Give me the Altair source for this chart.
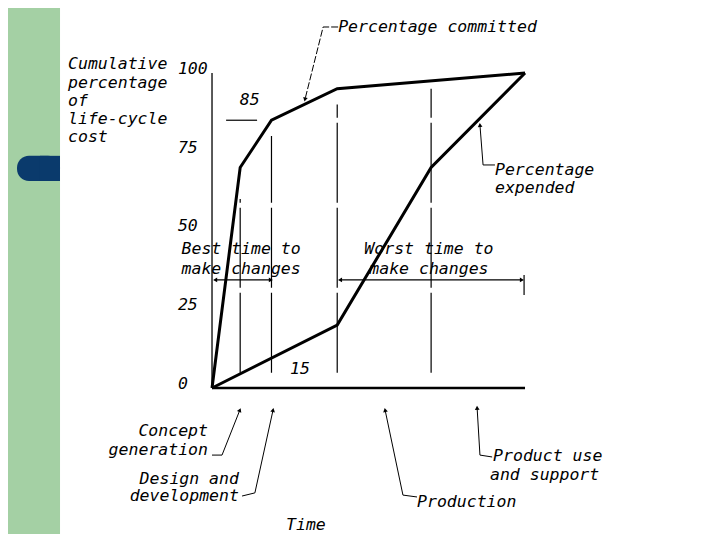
import math
import altair as alt
import pandas as pd

# ---------------- data ----------------
committed_t = [0, 9, 19, 40, 100]
committed_v = [0, 70, 85, 95, 100]
expended_t = [0, 40, 70, 100]
expended_v = [0, 20, 70, 100]
y_ticks = [0, 25, 50, 75, 100]
phase_t = [9, 19, 40, 70]          # phase boundaries (time units)
phase_top = [60, 80, 90, 95]       # top of dashed boundary lines
ylabel_lines = ["Cumulative", "percentage", "of", "life-cycle", "cost"]

# ---------------- scales ----------------
W, H = 704, 526
SX, SY = 3.13, 3.15
XD = [-65.18, -65.18 + W / SX]
YD = [120.63 - H / SY, 120.63]
xs = alt.Scale(domain=XD, nice=False, zero=False)
ys = alt.Scale(domain=YD, nice=False, zero=False)


def X(f="t"):
    return alt.X(f + ":Q", scale=xs, axis=None)


def Y(f="v"):
    return alt.Y(f + ":Q", scale=ys, axis=None)


FONT = "DejaVu Sans Mono"
FS = 16.5

layers = []

# green side band and tab
band = pd.DataFrame({"t": [XD[0]], "t2": [-48.56], "v": [YD[0]], "v2": [YD[1]]})
layers.append(alt.Chart(band).mark_rect(color="#a4d0a4").encode(
    x=X(), x2="t2", y=Y(), y2="v2"))
tab = pd.DataFrame({"t": [-62.3], "t2": [-48.56], "v": [65.7], "v2": [73.7]})
layers.append(alt.Chart(tab).mark_rect(color="#0a3a6c", cornerRadius=12).encode(
    x=X(), x2="t2", y=Y(), y2="v2"))
tab2 = pd.DataFrame({"t": [-55.0], "t2": [-48.56], "v": [65.7], "v2": [73.7]})
layers.append(alt.Chart(tab2).mark_rect(color="#0a3a6c").encode(
    x=X(), x2="t2", y=Y(), y2="v2"))

# dashed phase boundaries
pl = pd.DataFrame({"t": phase_t, "v": [4.8] * len(phase_t), "v2": phase_top})
layers.append(alt.Chart(pl).mark_rule(color="black", strokeWidth=1.2,
                                      strokeDash=[80, 5]).encode(
    x=X(), y=Y(), y2="v2"))

# axes
layers.append(alt.Chart(pd.DataFrame({"t": [0], "v": [0], "v2": [100]}))
              .mark_rule(color="black", strokeWidth=1.3).encode(x=X(), y=Y(), y2="v2"))
layers.append(alt.Chart(pd.DataFrame({"t": [0], "t2": [100], "v": [0]}))
              .mark_rule(color="black", strokeWidth=2.6).encode(x=X(), x2="t2", y=Y()))

# 85 marker line
layers.append(alt.Chart(pd.DataFrame({"t": [4.5], "t2": [14.4], "v": [85]}))
              .mark_rule(color="black", strokeWidth=1.2).encode(x=X(), x2="t2", y=Y()))

# curves
curves = pd.concat([
    pd.DataFrame({"t": committed_t, "v": committed_v, "s": "committed",
                  "k": range(len(committed_t))}),
    pd.DataFrame({"t": expended_t, "v": expended_v, "s": "expended",
                  "k": range(len(expended_t))}),
])
layers.append(alt.Chart(curves).mark_line(color="black", strokeWidth=3,
                                          strokeJoin="miter").encode(
    x=X(), y=Y(), detail="s:N", order="k:Q"))

# y tick labels
yl = pd.DataFrame({"t": [-10.9] * len(y_ticks), "v": y_ticks,
                   "lab": [str(v) for v in y_ticks]})
layers.append(alt.Chart(yl).mark_text(font=FONT, fontStyle="italic", fontSize=FS,
                                      align="left", baseline="middle", dy=-4,
                                      color="black").encode(
    x=X(), y=Y(), text="lab:N"))

# leader lines (annotation geometry in data units)
leaders = {
    "committed": [(40.3, 114.6), (35.5, 114.6), (29.7, 91.6)],
    "expended": [(90.4, 70.8), (86.6, 70.8), (85.6, 83.5)],
    "concept": [(0.0, -21.3), (3.2, -21.3), (8.9, -7.0)],
    "design": [(9.6, -34.3), (13.7, -33.3), (19.5, -7.0)],
    "production": [(65.5, -34.6), (61.0, -34.0), (55.3, -7.0)],
    "use": [(89.5, -21.9), (85.6, -21.3), (84.7, -6.3)],
}
rows, tips = [], []
for name, pts in leaders.items():
    for i, (t, v) in enumerate(pts):
        rows.append({"id": name, "k": i, "t": t, "v": v})
    (t0, v0), (t1, v1) = pts[-2], pts[-1]
    ang = math.degrees(math.atan2((t1 - t0) * SX, (v1 - v0) * SY)) % 360
    tips.append({"t": t1, "v": v1, "ang": ang})
ld = pd.DataFrame(rows)
layers.append(alt.Chart(ld[ld.id == "committed"]).mark_line(
    color="black", strokeWidth=1, strokeDash=[7, 2]).encode(
    x=X(), y=Y(), detail="id:N", order="k:Q"))
layers.append(alt.Chart(ld[ld.id != "committed"]).mark_line(
    color="black", strokeWidth=1).encode(
    x=X(), y=Y(), detail="id:N", order="k:Q"))

# "best" / "worst" spans
spans = pd.DataFrame({"t": [1.0, 40.9], "t2": [18.8, 99.0], "v": [34.3, 34.3]})
layers.append(alt.Chart(spans).mark_rule(color="black", strokeWidth=1.2).encode(
    x=X(), x2="t2", y=Y()))
for _, r in spans.iterrows():
    tips.append({"t": r.t, "v": r.v, "ang": 270})
    tips.append({"t": r.t2, "v": r.v, "ang": 90})
layers.append(alt.Chart(pd.DataFrame({"t": [99.7], "v": [29.5], "v2": [35.9]}))
              .mark_rule(color="black", strokeWidth=1.2).encode(x=X(), y=Y(), y2="v2"))

layers.append(alt.Chart(pd.DataFrame(tips)).mark_point(
    shape="triangle-up", filled=True, size=22, color="black", opacity=1).encode(
    x=X(), y=Y(), angle=alt.Angle("ang:Q", scale=None)))

# texts
texts_left = [
    ("Percentage committed", 40.3, 114.6),
    ("Percentage", 90.4, 69.2),
    ("expended", 90.4, 63.5),
    ("15", 24.9, 6.0),
    ("85", 8.9, 91.4),
    ("Production", 65.5, -36.2),
    ("Product use", 89.8, -21.6),
    ("and support", 88.8, -27.6),
] + [(s, -46.0, 102.7 - 5.75 * i) for i, s in enumerate(ylabel_lines)]
texts_center = [
    ("Best time to", 9.3, 44.0),
    ("make changes", 9.3, 37.7),
    ("Worst time to", 69.3, 44.0),
    ("make changes", 69.3, 37.7),
    ("Time", 30.0, -43.4),
]
texts_right = [
    ("Concept", -1.3, -13.8),
    ("generation", -1.3, -19.7),
    ("Design and", 8.6, -28.8),
    ("development", 8.6, -34.4),
]
for align, items in (("left", texts_left), ("center", texts_center),
                     ("right", texts_right)):
    df = pd.DataFrame(items, columns=["txt", "t", "v"])
    layers.append(alt.Chart(df).mark_text(
        font=FONT, fontStyle="italic", fontSize=FS, align=align,
        baseline="middle", color="black").encode(x=X(), y=Y(), text="txt:N"))

chart = alt.layer(*layers).properties(
    width=W, height=H, padding=0, autosize="none", background="white"
).configure_view(stroke=None)

chart.save("out.html", embed_options={"renderer": "svg", "actions": False})
